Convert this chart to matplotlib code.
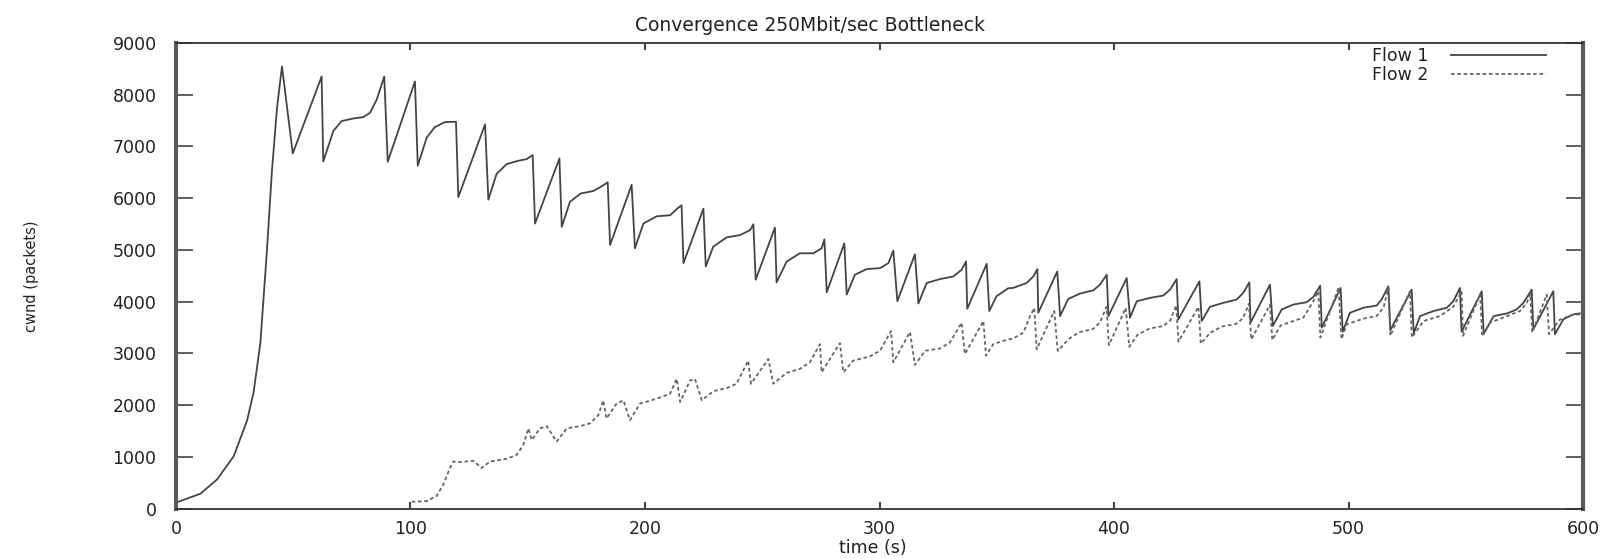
import numpy as np
import matplotlib
matplotlib.use("Agg")
import matplotlib.pyplot as plt

# ================================================================
# DONNÉES : cwnd (paquets) en fonction du temps (s)
# ================================================================
T_FLOW1 = [0, 10.4, 17.5, 24.6, 30.3, 33.1, 36.0, 38.8, 40.9, 43.1, 45.2,
           49.8, 62.1, 62.8, 67.1, 70.6, 75.6, 79.9, 82.7, 85.6, 88.8,
           90.3, 101.9, 103.1, 106.9, 110.4, 114.7, 119.4,
           120.4, 131.8, 133.2, 136.7, 141.0, 146.0, 149.5, 152.1,
           153.1, 163.5, 164.5, 168.0, 172.5, 178.0, 182.2, 184.1,
           185.1, 194.3, 195.7, 199.3, 205.0, 210.7, 214.2, 215.6,
           216.4, 224.9, 225.9, 229.1, 234.8, 240.5, 244.8, 246.2,
           247.2, 255.4, 256.1, 260.4, 266.0, 271.8, 275.3, 276.5,
           277.5, 285.0, 286.0, 289.5, 294.5, 300.2, 303.8, 305.9,
           307.6, 315.1, 316.6, 320.1, 325.8, 331.5, 335.0, 336.9,
           337.4, 345.7, 346.8, 349.9, 354.9, 357.0, 362.7, 365.6, 367.3,
           367.7, 375.8, 377.0, 380.5, 385.5, 391.2, 394.0, 396.9,
           397.6, 405.4, 406.8, 409.7, 415.3, 421.0, 423.9, 426.7,
           427.4, 436.4, 437.4, 440.9, 446.6, 452.3, 455.1, 457.7,
           458.2, 466.5, 467.7, 471.5, 476.5, 482.2, 485.0, 487.9,
           488.6, 496.6, 497.5, 500.6, 506.3, 512.0, 514.1, 517.0,
           517.8, 526.9, 527.8, 530.5, 536.2, 541.9, 544.7, 547.5,
           548.2, 556.8, 557.6, 561.9, 567.6, 571.7, 574.6, 578.1,
           578.8, 587.3, 588.0, 591.6, 595.8, 598.6]
CWND_FLOW1 = [117, 289, 564, 1012, 1700, 2250, 3214, 5003, 6517, 7756, 8548,
              6865, 8352, 6711, 7299, 7490, 7541, 7567, 7650, 7905, 8352,
              6705, 8257, 6628, 7171, 7375, 7471, 7478,
              6022, 7427, 5971, 6469, 6660, 6724, 6756, 6833,
              5511, 6769, 5447, 5930, 6090, 6140, 6250, 6309,
              5096, 6258, 5032, 5511, 5651, 5671, 5817, 5862,
              4745, 5798, 4681, 5064, 5243, 5287, 5383, 5498,
              4425, 5434, 4374, 4776, 4936, 4936, 5032, 5204,
              4183, 5128, 4138, 4521, 4630, 4649, 4745, 4987,
              4010, 4917, 3966, 4361, 4438, 4489, 4617, 4776,
              3863, 4732, 3819, 4106, 4260, 4266, 4361, 4489, 4630,
              3787, 4585, 3723, 4055, 4157, 4221, 4330, 4521,
              3723, 4457, 3691, 4010, 4074, 4119, 4234, 4438,
              3659, 4393, 3627, 3902, 3978, 4042, 4170, 4374,
              3595, 4330, 3531, 3851, 3946, 3991, 4093, 4310,
              3500, 4266, 3420, 3787, 3883, 3927, 4042, 4298,
              3450, 4234, 3390, 3723, 3819, 3883, 4010, 4266,
              3420, 4202, 3380, 3723, 3774, 3851, 3978, 4234,
              3467, 4202, 3372, 3659, 3755, 3774]

T_FLOW2 = [100.5, 106.9, 111.1, 114.0, 116.8, 118.3, 121.1, 126.8, 130.3,
           134.0, 141.0, 145.3, 148.1, 150.3, 151.7, 155.2, 158.1, 162.3,
           166.6, 172.3, 176.5, 180.1, 182.2, 183.6, 187.9, 190.8, 193.6,
           197.9, 205.0, 210.7, 213.5, 215.0, 219.2, 221.3, 224.2,
           229.1, 234.8, 239.0, 244.0, 245.2, 252.6, 254.7,
           260.4, 266.0, 270.3, 274.6, 275.3, 283.1, 284.6,
           288.8, 295.9, 300.2, 304.9, 305.9, 313.0, 315.1,
           319.4, 325.8, 330.0, 335.0, 336.4, 344.3, 345.4,
           348.5, 354.2, 357.0, 361.4, 364.2, 366.0, 367.0, 374.5, 376.0,
           380.5, 385.0, 391.0, 394.0, 396.8, 397.8, 405.0, 406.5,
           410.0, 415.0, 421.0, 424.0, 426.5, 427.5, 436.0, 437.0,
           441.0, 446.0, 452.0, 455.0, 457.5, 458.5, 466.5, 467.5,
           471.0, 476.5, 480.7, 485.0, 487.1, 488.0, 495.7, 497.0,
           499.2, 506.3, 512.0, 514.9, 517.0, 517.8, 526.2, 527.0,
           532.0, 539.0, 544.7, 548.2, 548.8, 556.1, 557.0,
           560.3, 567.6, 573.1, 576.0, 577.5, 578.3, 584.5, 585.5,
           590.0, 595.0, 599.0]
CWND_FLOW2 = [134, 147, 243, 466, 785, 913, 900, 926, 785,
              913, 964, 1041, 1232, 1552, 1328, 1552, 1596, 1296,
              1552, 1596, 1648, 1807, 2094, 1743, 2031, 2094, 1711,
              2031, 2126, 2222, 2510, 2063, 2478, 2510, 2094,
              2270, 2331, 2414, 2861, 2414, 2893, 2414,
              2625, 2701, 2829, 3180, 2637, 3199, 2637,
              2861, 2944, 3052, 3435, 2829, 3416, 2778,
              3052, 3097, 3212, 3595, 2989, 3627, 2957,
              3180, 3263, 3289, 3404, 3723, 3880, 3080, 3820, 3050,
              3270, 3410, 3470, 3600, 3900, 3160, 3880, 3130,
              3360, 3480, 3530, 3640, 3930, 3230, 3900, 3190,
              3400, 3520, 3570, 3680, 3960, 3270, 3940, 3260,
              3540, 3627, 3691, 4010, 4202, 3308, 4266, 3276,
              3563, 3672, 3723, 3883, 4266, 3340, 4202, 3308,
              3627, 3723, 3902, 4202, 3340, 4138, 3330,
              3595, 3723, 3819, 3978, 4150, 3404, 4138, 3372,
              3650, 3740, 3760]

X_TICKS = [0, 100, 200, 300, 400, 500, 600]
Y_TICKS = [0, 1000, 2000, 3000, 4000, 5000, 6000, 7000, 8000, 9000]

# ================================================================
# FIGURE
# ================================================================
plt.rcParams['font.family'] = ['DejaVu Sans']
TXT = '#222222'

fig = plt.figure(figsize=(16.19, 5.59), dpi=100)
ax = fig.add_axes([0.1087, 0.0900, 0.8691, 0.8331])

ax.plot(T_FLOW1, CWND_FLOW1, color='#444444', lw=1.3, label='Flow 1')
ax.plot(T_FLOW2, CWND_FLOW2, color='#666666', lw=1.3, ls=(0, (2.0, 1.5)),
        label='Flow 2')

ax.set_xlim(0, 600)
ax.set_ylim(0, 9000)
ax.set_xticks(X_TICKS)
ax.set_yticks(Y_TICKS)

# Cadre façon gnuplot : bords verticaux épais, graduations vers l'intérieur
for side in ['left', 'right']:
    ax.spines[side].set_linewidth(3.0)
    ax.spines[side].set_color('#5a5a5a')
for side in ['top', 'bottom']:
    ax.spines[side].set_linewidth(1.3)
    ax.spines[side].set_color('#333333')
ax.tick_params(axis='y', direction='in', length=12, width=1.2, colors='#444444',
               right=True, pad=14, labelsize=12.5, labelcolor=TXT)
ax.tick_params(axis='x', direction='in', length=5, width=1.5, colors='#444444',
               top=True, pad=8, labelsize=12.5, labelcolor=TXT)

fig.text(0.5, 0.955, "Convergence 250Mbit/sec Bottleneck", ha='center',
         va='center', fontsize=13.5, color=TXT)
fig.text(0.0195, 0.505, "cwnd (packets)", rotation=90, ha='center',
         va='center', fontsize=10.5, color=TXT)
fig.text(0.539, 0.02, "time (s)", ha='center', va='center', fontsize=12.5,
         color=TXT)

ax.legend(loc='upper right', bbox_to_anchor=(1546 / 1619, 1 - 47 / 559),
          bbox_transform=fig.transFigure, frameon=False, markerfirst=False,
          handlelength=5.5, handletextpad=1.3, borderpad=0, borderaxespad=0,
          labelspacing=0.05, fontsize=12.5, labelcolor=TXT)

fig.savefig("out.png", dpi=100)
